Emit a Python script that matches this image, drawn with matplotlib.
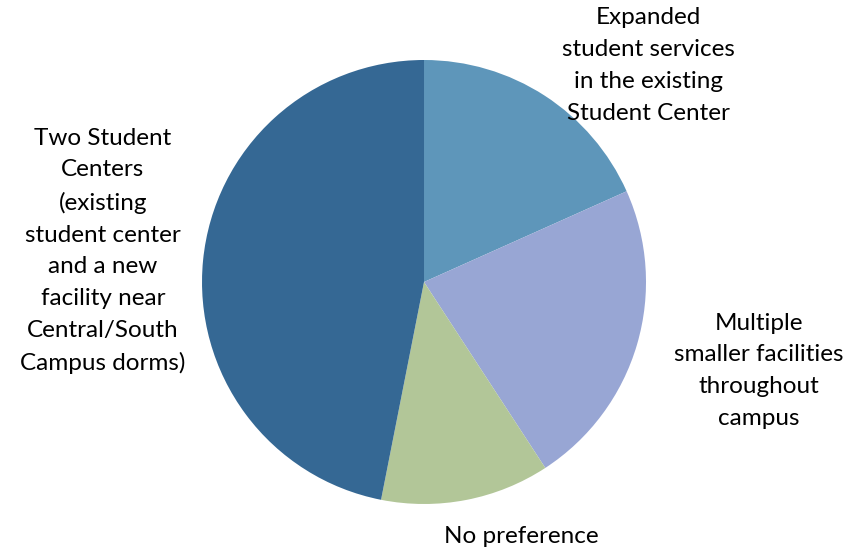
import matplotlib.pyplot as plt

# Survey answers, share of respondents (%)
categories = ['Expanded\nstudent services\nin the existing\nStudent Center',
              'Multiple\nsmaller facilities\nthroughout\ncampus',
              'No preference',
              'Two Student\nCenters\n(existing\nstudent center\nand a new\nfacility near\nCentral/South\nCampus dorms)']
shares = [18.3, 22.5, 12.3, 46.9]
colors = ['#5E96BA', '#98A6D4', '#B2C698', '#356894']

# label anchor points in pie units (radius = 1)
label_pos = [(1.01, 0.975), (1.51, -0.40), (0.44, -1.145), (-1.446, 0.14)]

plt.rcParams['font.family'] = ['Lato', 'DejaVu Sans']

fig = plt.figure(figsize=(8.47, 5.55), dpi=100)
ax = fig.add_axes([0.2385, 0.0919, 0.5242, 0.8])

ax.pie(shares, colors=colors, startangle=90, counterclock=False,
       radius=1.0, wedgeprops=dict(linewidth=0))
ax.set_xlim(-1, 1)
ax.set_ylim(-1, 1)
ax.set_aspect('equal')
ax.axis('off')

for lbl, (x, y) in zip(categories, label_pos):
    ax.text(x, y, lbl, ha='center', va='center', fontsize=17.5,
            linespacing=1.63, color='black', clip_on=False)

fig.savefig('out.png', dpi=100)
